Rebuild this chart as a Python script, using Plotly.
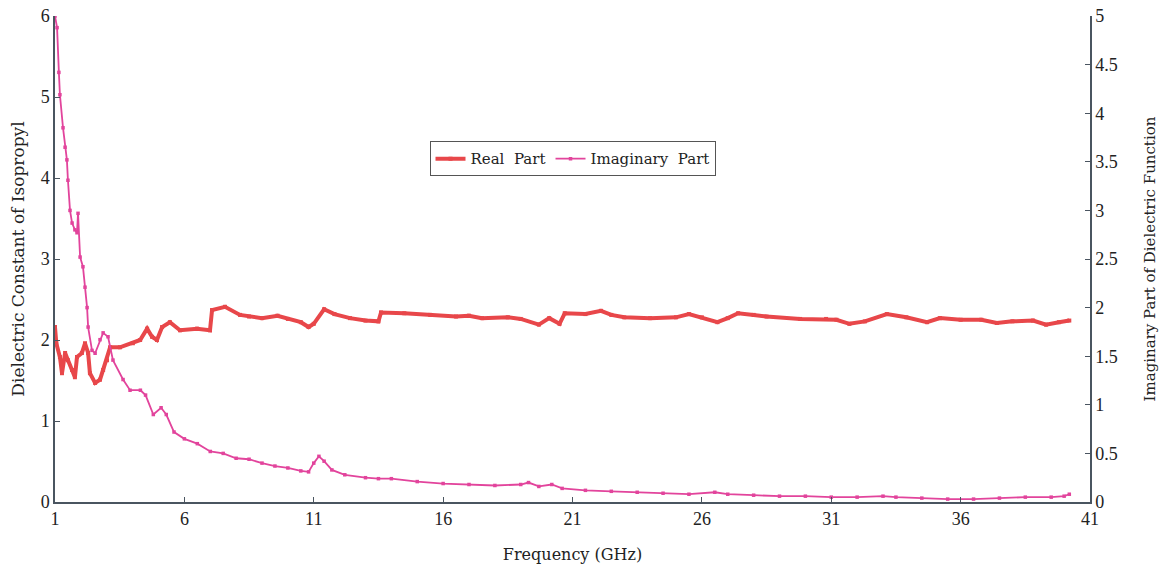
import plotly.graph_objects as go

# Real part (left axis)
real_freq = [1.0, 1.05, 1.19, 1.27, 1.39, 1.5, 1.66, 1.77, 1.85, 2.04, 2.16, 2.28, 2.35, 2.55,
             2.74, 2.86, 3.01, 3.13, 3.51, 4.01, 4.29, 4.56, 4.75, 4.94, 5.14, 5.44, 5.83,
             6.49, 6.99, 7.07, 7.57, 8.15, 8.5, 9.0, 9.6, 10.0, 10.5, 10.8, 11.0, 11.4,
             11.8, 12.4, 13.0, 13.5, 13.6, 14.5, 15.5, 16.5, 17.0, 17.5, 18.5, 19.0, 19.7,
             20.1, 20.5, 20.7, 21.5, 22.1, 22.5, 23.0, 24.0, 25.0, 25.5, 26.0, 26.6, 27.0,
             27.4, 28.0, 28.5, 29.8, 30.8, 31.2, 31.7, 32.3, 33.15, 33.9, 34.7, 35.2, 36.0,
             36.8, 37.4, 38.0, 38.8, 39.3, 39.8, 40.2]
real_vals = [2.16, 1.96, 1.79, 1.59, 1.84, 1.75, 1.63, 1.54, 1.79, 1.84, 1.96, 1.84, 1.59, 1.47,
             1.51, 1.63, 1.75, 1.91, 1.91, 1.96, 2.0, 2.14, 2.04, 2.0, 2.16, 2.22, 2.12,
             2.14, 2.12, 2.37, 2.41, 2.31, 2.29, 2.27, 2.3, 2.26, 2.22, 2.16, 2.2, 2.38,
             2.32, 2.27, 2.24, 2.23, 2.34, 2.33, 2.31, 2.29, 2.3, 2.27, 2.28, 2.26, 2.19,
             2.27, 2.2, 2.33, 2.32, 2.36, 2.31, 2.28, 2.27, 2.28, 2.32, 2.28, 2.22, 2.27,
             2.33, 2.31, 2.29, 2.26, 2.26, 2.25, 2.2, 2.23, 2.32, 2.28, 2.22, 2.27, 2.25,
             2.25, 2.21, 2.23, 2.24, 2.19, 2.22, 2.24]

# Imaginary part (right axis)
imag_freq = [1.0, 1.08, 1.15, 1.19, 1.31, 1.39, 1.46, 1.5, 1.58, 1.66, 1.77, 1.85, 1.89, 1.97,
             2.08, 2.16, 2.24, 2.28, 2.43, 2.55, 2.74, 2.86, 3.05, 3.24, 3.63, 3.9, 4.3,
             4.5, 4.8, 5.1, 5.3, 5.6, 6.0, 6.5, 7.0, 7.5, 8.0, 8.5, 9.0, 9.5, 10.0, 10.5,
             10.8, 11.0, 11.2, 11.4, 11.7, 12.2, 13.0, 13.5, 14.0, 15.0, 16.0, 17.0, 18.0,
             19.0, 19.3, 19.7, 20.2, 20.6, 21.5, 22.5, 23.5, 24.5, 25.5, 26.5, 27.0, 28.0,
             29.0, 30.0, 31.0, 32.0, 33.0, 33.5, 34.5, 35.5, 36.5, 37.5, 38.5, 39.5, 40.0, 40.2]
imag_vals = [5.0, 4.88, 4.42, 4.19, 3.85, 3.65, 3.52, 3.31, 3.0, 2.87, 2.8, 2.77, 2.97, 2.52,
             2.42, 2.21, 2.0, 1.8, 1.56, 1.53, 1.67, 1.74, 1.7, 1.46, 1.26, 1.15, 1.15,
             1.1, 0.9, 0.97, 0.9, 0.72, 0.65, 0.6, 0.52, 0.5, 0.45, 0.44, 0.4, 0.37, 0.35, 0.32,
             0.31, 0.4, 0.47, 0.42, 0.33, 0.28, 0.25, 0.24, 0.24, 0.21, 0.19, 0.18, 0.17,
             0.18, 0.2, 0.16, 0.18, 0.14, 0.12, 0.11, 0.1, 0.09, 0.08, 0.1, 0.08, 0.07,
             0.06, 0.06, 0.05, 0.05, 0.06, 0.05, 0.04, 0.03, 0.03, 0.04, 0.05, 0.05, 0.06, 0.08]

x_ticks = [1, 6, 11, 16, 21, 26, 31, 36, 41]

RED = "#e8474a"
PINK = "#e2449c"
TICKFONT = "Liberation Serif"
TITLEFONT = "DejaVu Serif"
AX = "#4a5560"

fig = go.Figure()
fig.add_trace(go.Scatter(
    x=real_freq, y=real_vals, name="Real  Part", mode="lines+markers",
    line=dict(color=RED, width=4), marker=dict(symbol="square", size=4, color=RED),
    yaxis="y"))
fig.add_trace(go.Scatter(
    x=imag_freq, y=imag_vals, name="Imaginary  Part", mode="lines+markers",
    line=dict(color=PINK, width=1.8), marker=dict(symbol="square", size=3.5, color=PINK),
    yaxis="y2"))

fig.update_layout(
    width=1161, height=565,
    margin=dict(l=55, r=71, t=16, b=63),
    paper_bgcolor="white", plot_bgcolor="white",
    font=dict(family=TICKFONT, size=18, color="#222"),
    showlegend=True,
    legend=dict(orientation="h", x=0.5, y=0.706, xanchor="center", yanchor="middle",
                bordercolor="#555", borderwidth=1, bgcolor="white",
                font=dict(family=TITLEFONT, size=15, color="#222")),
    xaxis=dict(range=[1, 41], tickvals=x_ticks, showgrid=False, zeroline=False,
               automargin=False,
               showline=True, linecolor=AX, linewidth=1.5, ticks="inside", ticklen=5,
               tickcolor=AX, tickfont=dict(family=TICKFONT, size=18),
               title=dict(text="Frequency (GHz)", standoff=20,
                          font=dict(family=TITLEFONT, size=16))),
    yaxis=dict(range=[0, 6], dtick=1, showgrid=False, zeroline=False, showline=True,
               automargin=False,
               linecolor=AX, linewidth=1.5, ticks="inside", ticklen=5, tickcolor=AX,
               tickfont=dict(family=TICKFONT, size=18),
               title=dict(text="Dielectric Constant of Isopropyl", standoff=12,
                          font=dict(family=TITLEFONT, size=17))),
    yaxis2=dict(range=[0, 5], dtick=0.5, overlaying="y", side="right", showgrid=False,
                automargin=False,
                zeroline=False, showline=True, linecolor=AX, linewidth=1.5,
                ticks="inside", ticklen=5, tickcolor=AX,
                tickfont=dict(family=TICKFONT, size=18),
                title=dict(text="Imaginary Part of Dielectric Function", standoff=28,
                           font=dict(family=TITLEFONT, size=15))),
)

fig.write_html("out.html")
